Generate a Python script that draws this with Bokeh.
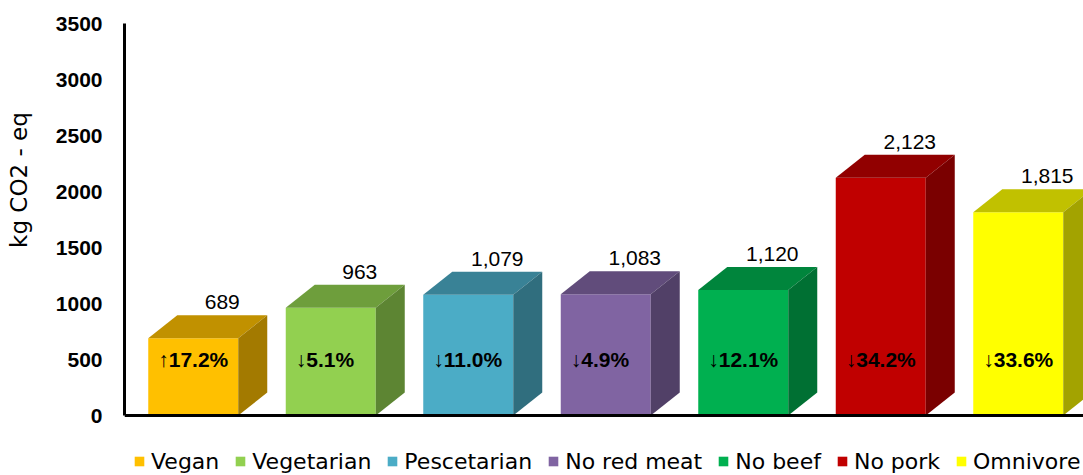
import math
from bokeh.plotting import figure
from bokeh.models import (Range1d, FixedTicker, Legend, LegendItem, Span,
                          ColumnDataSource)
from bokeh.core.properties import value
from bokeh.embed import file_html
from bokeh.resources import INLINE

# ---------------- data ----------------
categories = ["Vegan", "Vegetarian", "Pescetarian", "No red meat",
              "No beef", "No pork", "Omnivore"]
emissions = [689, 963, 1079, 1083, 1120, 2123, 1815]
change_pct = [17.2, -5.1, -11.0, -4.9, -12.1, -34.2, -33.6]
y_ticks = [0, 500, 1000, 1500, 2000, 2500, 3000, 3500]
y_title = "kg CO2 - eq"

# ---------------- style ----------------
colors = ["#FFC000", "#92D050", "#4BACC6", "#8064A2", "#00B050", "#C00000", "#FFFF00"]

def shade(hex_color, f):
    h = hex_color.lstrip("#")
    r, g, b = (int(h[i:i + 2], 16) for i in (0, 2, 4))
    return "#%02X%02X%02X" % (int(r * f), int(g * f), int(b * f))

top_colors = [shade(c, 0.76) for c in colors]
side_colors = [shade(c, 0.64) for c in colors]

W, H = 1083, 475
LEFT, TOP = 124, 23
AXIS_PX = 392                      # pixel height of 0..Y_MAX
LEGEND_ROOM = H - TOP - AXIS_PX    # frame area below zero, holds the legend
PX_PER_CAT = 137.5
X_END = (W - LEFT) / PX_PER_CAT
Y_MAX = y_ticks[-1]
px_per_val = AXIS_PX / Y_MAX
Y_MIN = -LEGEND_ROOM / px_per_val

HALF_W = 45 / PX_PER_CAT        # half bar width (category units)
DEPTH_PX_X, DEPTH_PX_Y = 29, 23
DX = DEPTH_PX_X / PX_PER_CAT
DY = DEPTH_PX_Y / px_per_val

FONT = "DejaVu Sans"
NUM_FONT = "Liberation Sans"

# ---------------- geometry from data ----------------
centers = [i + 0.5 for i in range(len(categories))]
lefts = [c - HALF_W for c in centers]
rights = [c + HALF_W for c in centers]

front = ColumnDataSource(dict(left=lefts, right=rights, top=emissions,
                              bottom=[0] * len(emissions), color=colors,
                              cat=categories))
top_src = ColumnDataSource(dict(
    xs=[[l, r, r + DX, l + DX] for l, r in zip(lefts, rights)],
    ys=[[v, v, v + DY, v + DY] for v in emissions],
    color=top_colors))
side_src = ColumnDataSource(dict(
    xs=[[r, r + DX, r + DX, r] for r in rights],
    ys=[[0, DY, v + DY, v] for v in emissions],
    color=side_colors))

value_labels = ["{:,}".format(v) for v in emissions]
pct_labels = [("\u2191" if p > 0 else "\u2193") + "%.1f%%" % abs(p) for p in change_pct]

p = figure(width=W, height=H, output_backend="svg", toolbar_location=None,
           x_range=Range1d(0, X_END), y_range=Range1d(Y_MIN, Y_MAX),
           min_border_left=LEFT, min_border_top=TOP, min_border_bottom=0,
           min_border_right=0)
p.outline_line_color = None
p.xgrid.visible = False
p.ygrid.visible = False
p.xaxis.visible = False
p.background_fill_color = "white"
p.border_fill_color = "white"

r_front = p.quad(left="left", right="right", top="top", bottom="bottom",
                 fill_color="color", line_color=None, source=front)
p.patches(xs="xs", ys="ys", fill_color="color", line_color=None, source=top_src)
p.patches(xs="xs", ys="ys", fill_color="color", line_color=None, source=side_src)

# horizontal axis line at zero
p.add_layout(Span(location=0, dimension="width", line_color="black", line_width=3))

p.text(x=centers, y=emissions, text=value_labels, x_offset=DEPTH_PX_X,
       y_offset=-(DEPTH_PX_Y + 6), text_align="center", text_baseline="bottom",
       text_font=value(NUM_FONT), text_font_size="21px", text_color="black")
p.text(x=lefts, y=[500] * len(lefts), text=pct_labels, x_offset=10,
       text_align="left", text_baseline="middle", text_font=value(NUM_FONT),
       text_font_style="bold", text_font_size="21px", text_color="black")

# y axis
yax = p.yaxis[0]
yax.ticker = FixedTicker(ticks=y_ticks)
yax.bounds = (0, Y_MAX)
yax.axis_line_width = 3
yax.axis_line_color = "black"
yax.major_tick_line_color = None
yax.minor_tick_line_color = None
yax.major_tick_out = 0
yax.major_tick_in = 0
yax.major_label_standoff = 22
yax.major_label_text_font = NUM_FONT
yax.major_label_text_font_style = "bold"
yax.major_label_text_font_size = "21px"
yax.major_label_text_color = "black"
# leading no-break spaces move the title up along the axis, as in the reference
yax.axis_label = "\u00a0" * 19 + y_title
yax.axis_label_standoff = 21
yax.axis_label_text_font = FONT
yax.axis_label_text_font_style = "normal"
yax.axis_label_text_font_size = "23px"
yax.axis_label_text_color = "black"

items = [LegendItem(label=c, renderers=[r_front], index=i)
         for i, c in enumerate(categories)]
legend = Legend(items=items, orientation="horizontal", location=(9, 1),
                glyph_width=12, glyph_height=12, label_standoff=6, spacing=15,
                padding=0, margin=0, label_height=26,
                label_text_font=FONT, label_text_font_size="22px",
                label_text_color="black", label_text_baseline="middle",
                border_line_color=None, background_fill_alpha=0)
p.add_layout(legend)

open("out.html", "w").write(file_html(p, INLINE))
